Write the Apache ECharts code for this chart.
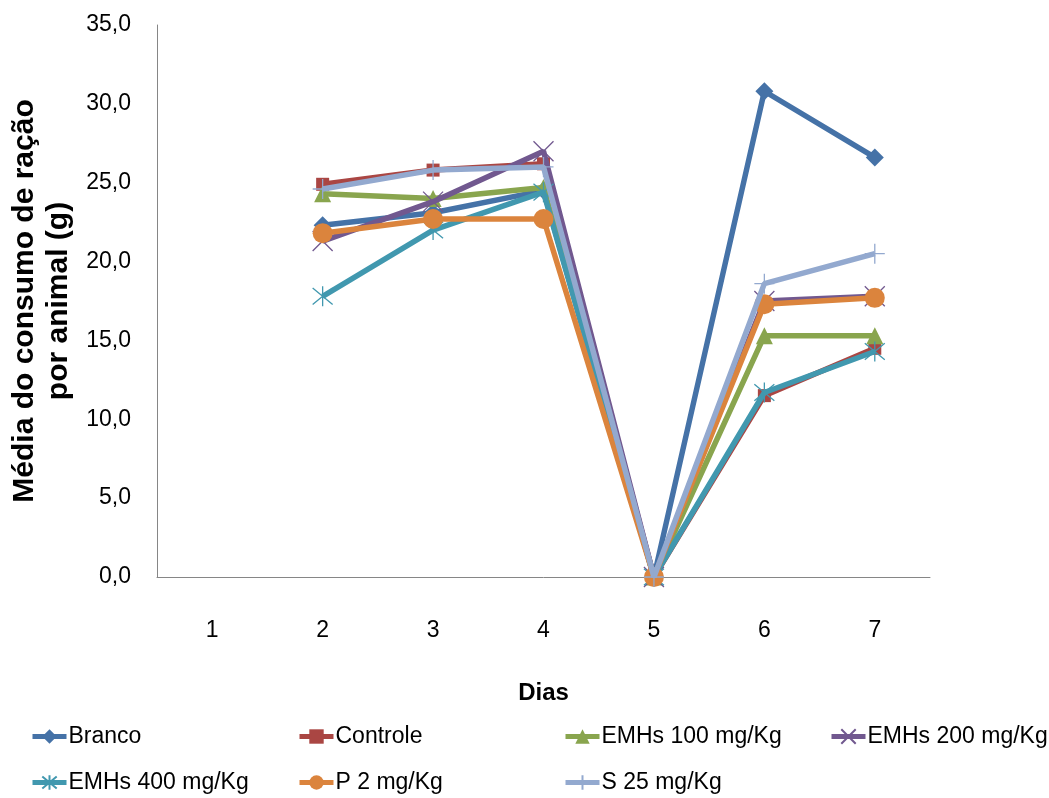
<!DOCTYPE html>
<html><head><meta charset="utf-8">
<script src="https://cdn.jsdelivr.net/npm/echarts@6/dist/echarts.min.js"></script>
<style>html,body{margin:0;padding:0;background:#fff}#c{width:1049px;height:798px}</style>
</head><body><div id="c"></div>
<script>
const days = ['1','2','3','4','5','6','7'];
const yTicks = [0,5,10,15,20,25,30,35];
const branco   = [null,22.3,23.1,24.5,0,30.8,26.6];
const controle = [null,24.9,25.8,26.2,0,11.5,14.5];
const emhs100  = [null,24.3,24.0,24.7,0,15.3,15.3];
const emhs200  = [null,21.3,23.8,27.0,0,17.5,17.8];
const emhs400  = [null,17.8,22.0,24.4,0,11.7,14.3];
const p2       = [null,21.8,22.7,22.7,0,17.3,17.7];
const s25      = [null,24.6,25.8,26.0,0,18.6,20.5];
const names = ['Branco','Controle','EMHs 100 mg/Kg','EMHs 200 mg/Kg','EMHs 400 mg/Kg','P 2 mg/Kg','S 25 mg/Kg'];
const values = [branco,controle,emhs100,emhs200,emhs400,p2,s25];
const colors = ['#4572A7','#AA4643','#89A54E','#71588F','#4198AF','#DB843D','#93A9CF'];
const symbols = ['diamond','rect','triangle',
  'path://M0,0L10,10M10,0L0,10',
  'path://M0,0L10,10M10,0L0,10M5,-1L5,11',
  'circle',
  'path://M5,0L5,10M0,5L10,5'];
const sizes = [18,13,17,20,20,20,20];
const stroked = [false,false,false,true,true,false,true];
const FONT = 'Liberation Sans';
const series = names.map((n,i)=>({
  name:n, type:'line', data:values[i], symbol:symbols[i], symbolSize:sizes[i],
  showAllSymbol:true, connectNulls:false,
  lineStyle:{color:colors[i], width:5.5},
  itemStyle: stroked[i] ? {color:colors[i], borderColor:colors[i], borderWidth:1.3} : {color:colors[i], borderWidth:0},
  z: 2+i
}));
const legendPos = [[25,720],[292,720],[558,720],[824,720],[25,766],[292,766],[558,766]];
const legends = names.map((n,i)=>({
  data:[n], left:legendPos[i][0], top:legendPos[i][1], itemWidth:34, itemHeight:18, itemGap:0,
  lineStyle:{width:5},
  textStyle:{fontFamily:FONT, fontSize:23, color:'#000', padding:[0,0,0,-3]}
}));
const chart = echarts.init(document.getElementById('c'));
chart.setOption({
  animation:false,
  color:colors,
  grid:{left:157, right:119, top:25, bottom:221, containLabel:false, outerBoundsMode:'none'},
  legend:legends,
  xAxis:{type:'category', data:days, boundaryGap:true,
    name:'Dias', nameLocation:'middle', nameGap:104,
    nameTextStyle:{fontFamily:FONT, fontSize:24, fontWeight:'bold', color:'#000'},
    axisLine:{lineStyle:{color:'#868686', width:1}}, axisTick:{show:false},
    axisLabel:{fontFamily:FONT, fontSize:23, color:'#000', margin:42}},
  yAxis:{type:'value', min:0, max:35, interval:5,
    name:'Média do consumo de ração\npor animal (g)', nameLocation:'middle', nameGap:64, nameRotate:90,
    nameTextStyle:{fontFamily:FONT, fontSize:30, fontWeight:'bold', color:'#000', lineHeight:34},
    axisLine:{show:true, lineStyle:{color:'#868686', width:1}}, axisTick:{show:false},
    splitLine:{show:false},
    axisLabel:{fontFamily:FONT, fontSize:23, color:'#000', margin:26,
      formatter:v=>v.toFixed(1).replace('.',',')}},
  series:series
});
</script></body></html>
